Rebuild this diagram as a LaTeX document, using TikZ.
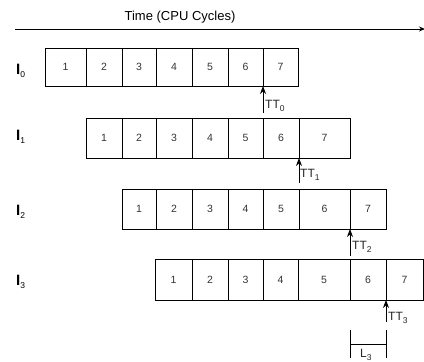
\documentclass[tikz,border=0pt]{standalone}
\usepackage{fontspec}
\setmainfont{Liberation Sans}
\usetikzlibrary{arrows.meta}
\newcommand\mysub[1]{\raisebox{-0.4ex}{\fontsize{8.5}{9}\selectfont #1}}
\begin{document}
\begin{tikzpicture}[x=1pt,y=-1pt,
  cell/.style={draw, line width=0.9pt, inner sep=0pt, outer sep=0pt, anchor=north west,
    font=\fontsize{10.5}{12}\selectfont, text=black!80},
  rowlabel/.style={anchor=west, inner sep=0pt, font=\fontsize{15}{16}\selectfont\bfseries},
  ttlabel/.style={anchor=west, inner sep=0pt, font=\fontsize{12}{13}\selectfont, text=black!85},
  ttarrow/.style={line width=0.9pt, -{Stealth[length=8pt,width=6pt]}},
  plain/.style={line width=0.9pt}]
\useasboundingbox (0,0) rectangle (424,362);
% time axis
\node[font=\fontsize{13}{14}\selectfont, inner sep=0pt] (title) at (180,17) {Time (CPU Cycles)};
\coordinate (ax0) at (15,29);
\coordinate (ax1) at (425,29);
\draw[line width=0.9pt, -{Stealth[length=6pt,width=5pt]}] (ax0) -- (ax1);
% rows
\foreach \i/\a/\b [evaluate=\b as \w using \b-\a] in {1/45/86,2/86/122,3/122/156,4/156/192,5/192/228,6/228/263,7/263/298}
  \node[cell, minimum width=\w pt, minimum height=38pt] (r0c\i) at (\a,48) {\i};
\foreach \i/\a/\b [evaluate=\b as \w using \b-\a] in {1/86/122,2/122/156,3/156/192,4/192/228,5/228/263,6/263/299,7/299/350}
  \node[cell, minimum width=\w pt, minimum height=40pt] (r1c\i) at (\a,118) {\i};
\foreach \i/\a/\b [evaluate=\b as \w using \b-\a] in {1/122/156,2/156/192,3/192/228,4/228/263,5/263/299,6/299/350,7/350/386}
  \node[cell, minimum width=\w pt, minimum height=40pt] (r2c\i) at (\a,189) {\i};
\foreach \i/\a/\b [evaluate=\b as \w using \b-\a] in {1/155/192,2/192/228,3/228/263,4/263/298,5/298/350,6/350/386,7/386/423}
  \node[cell, minimum width=\w pt, minimum height=41pt] (r3c\i) at (\a,259) {\i};
% row labels
\node[rowlabel] (i0) at (16,71) {I\mysub{\mdseries 0}};
\node[rowlabel] (i1) at (16,137) {I\mysub{\mdseries 1}};
\node[rowlabel] (i2) at (16,212) {I\mysub{\mdseries 2}};
\node[rowlabel] (i3) at (16,282) {I\mysub{\mdseries 3}};
% TT arrows
\coordinate (t0) at (263,113);
\coordinate (t1) at (299,183);
\coordinate (t2) at (350,256);
\coordinate (t3) at (386,322);
\draw[ttarrow] (t0) -- (r0c6.south east);
\draw[ttarrow] (t1) -- (r1c6.south east);
\draw[ttarrow] (t2) -- (r2c6.south east);
\draw[ttarrow] (t3) -- (r3c6.south east);
\node[ttlabel] (tt0) at (265,106) {TT\mysub{0}};
\node[ttlabel] (tt1) at (300,175) {TT\mysub{1}};
\node[ttlabel] (tt2) at (352,247) {TT\mysub{2}};
\node[ttlabel] (tt3) at (388,318) {TT\mysub{3}};
% L3 bracket
\coordinate (la) at (350,330);
\coordinate (lb) at (350,358);
\coordinate (lc) at (386,330);
\coordinate (ld) at (386,358);
\coordinate (lm1) at (350,344);
\coordinate (lm2) at (386,344);
\draw[plain] (la) -- (lb);
\draw[plain] (lc) -- (ld);
\draw[plain] (lm1) -- (lm2);
\node[ttlabel] (l3) at (360,355) {L\mysub{3}};
\end{tikzpicture}
\end{document}
